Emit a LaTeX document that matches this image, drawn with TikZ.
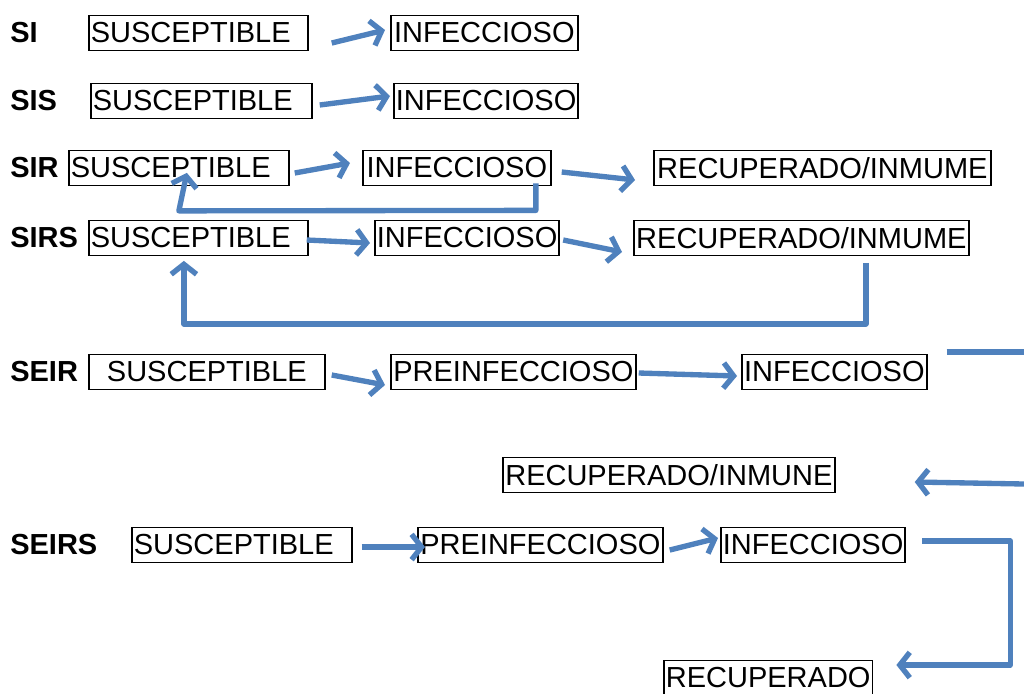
\documentclass[tikz,border=0pt]{standalone}
\usepackage{fontspec}
\setmainfont{Liberation Sans}
\usetikzlibrary{arrows.meta,calc}
\definecolor{arrblue}{HTML}{4F81BD}
\begin{document}
\begin{tikzpicture}[x=0.75pt,y=-0.75pt,
  box/.style={draw,line width=1.3pt,anchor=west,minimum height=26.25pt,inner xsep=1.5pt,inner ysep=0pt,
    font=\fontsize{21.75pt}{26pt}\selectfont},
  boxL/.style={box,align=left},
  lbl/.style={anchor=west,inner sep=0pt,font=\fontsize{21.75pt}{26pt}\selectfont\bfseries},
  arr/.style={draw=arrblue,line width=4pt,line join=round,-{Straight Barb[length=7.5pt,width=19pt]}},
  ln/.style={draw=arrblue,line width=4pt,line join=round}]
\fill[white] (0,0) rectangle (1024,693);
\useasboundingbox (0,0) rectangle (1024,693);

% SI
\node[lbl] (siL) at (10,33) {SI};
\node[boxL,text width=161.25pt] (siS) at (88,33) {SUSCEPTIBLE};
\node[box,minimum width=140.25pt] (siI) at (390,33) {INFECCIOSO};
\draw[arr] ([shift={(23,10)}]siS.east) -- ([shift={(-5,-3)}]siI.west);

% SIS
\node[lbl] (sisL) at (10,101) {SIS};
\node[boxL,text width=162.75pt] (sisS) at (90,101) {SUSCEPTIBLE};
\node[box,minimum width=138pt] (sisI) at (393,101) {INFECCIOSO};
\draw[arr] ([shift={(7,4)}]sisS.east) -- ([shift={(-3,-5)}]sisI.west);

% SIR
\node[lbl] (sirL) at (10,168) {SIR};
\node[boxL,text width=162pt] (sirS) at (68,168) {SUSCEPTIBLE};
\node[box,minimum width=141pt] (sirI) at (362,168) {INFECCIOSO};
\node[box,minimum width=252.75pt] (sirR) at (653,168) {RECUPERADO/INMUME};
\draw[arr] ([shift={(5,5)}]sirS.east) -- ([shift={(-12,-5)}]sirI.west);
\draw[arr] ([shift={(10,4)}]sirI.east) -- ([shift={(-18,12)}]sirR.west);
\draw[arr] ([shift={(79,-3)}]sirI.south) -- ++(0,27) -- ([shift={(0,24.5)}]sirS.south) -- ([shift={(8,-13.5)}]sirS.south);

% SIRS
\node[lbl] (sirsL) at (10,238) {SIRS};
\node[boxL,text width=161.25pt] (sirsS) at (88,238) {SUSCEPTIBLE};
\node[box,minimum width=137.25pt] (sirsI) at (374,238) {INFECCIOSO};
\node[box,minimum width=251.25pt] (sirsR) at (633,238) {RECUPERADO/INMUME};
\draw[arr] ([shift={(-2,2)}]sirsS.east) -- ([shift={(-4,5)}]sirsI.west);
\draw[arr] ([shift={(3,2)}]sirsI.east) -- ([shift={(-11,14)}]sirsR.west);
\draw[arr] ([shift={(64.5,6.5)}]sirsR.south) -- ++(0,61) -- ([shift={(-14.5,67.5)}]sirsS.south) -- ([shift={(-14.5,4.5)}]sirsS.south);

% SEIR
\node[lbl] (seirL) at (10,372) {SEIR};
\node[box,minimum width=177pt] (seirS) at (88,372) {SUSCEPTIBLE};
\node[box,minimum width=183.75pt] (seirE) at (390,372) {PREINFECCIOSO};
\node[box,minimum width=138.75pt] (seirI) at (741,372) {INFECCIOSO};
\node[box,minimum width=249pt] (seirR) at (502,475) {RECUPERADO/INMUNE};
\coordinate (seirOut) at (1024,352);
\coordinate (seirIn) at (1024,484);
\draw[arr] ([shift={(6,3)}]seirS.east) -- ([shift={(-5,13)}]seirE.west);
\draw[arr] ([shift={(2,1)}]seirE.east) -- ([shift={(-4,4)}]seirI.west);
\draw[ln] ([shift={(19,-20)}]seirI.east) -- (seirOut);
\draw[arr] (seirIn) -- ([shift={(79,7)}]seirR.east);

% SEIRS
\node[lbl] (seirsL) at (10,545) {SEIRS};
\node[boxL,text width=162pt] (seirsS) at (131,545) {SUSCEPTIBLE};
\node[box,minimum width=183.75pt] (seirsE) at (417,545) {PREINFECCIOSO};
\node[box,minimum width=138pt] (seirsI) at (720,545) {INFECCIOSO};
\node[box,minimum width=155.25pt] (seirsR) at (663,678) {RECUPERADO};
\draw[arr] ([shift={(9,2)}]seirsS.east) -- ([shift={(8,2)}]seirsE.west);
\draw[arr] ([shift={(6,5)}]seirsE.east) -- ([shift={(-2,-7)}]seirsI.west);
\draw[arr] ([shift={(16,-4)}]seirsI.east) -- ++(88,0) |- ([shift={(23,-13)}]seirsR.east);
\end{tikzpicture}
\end{document}
